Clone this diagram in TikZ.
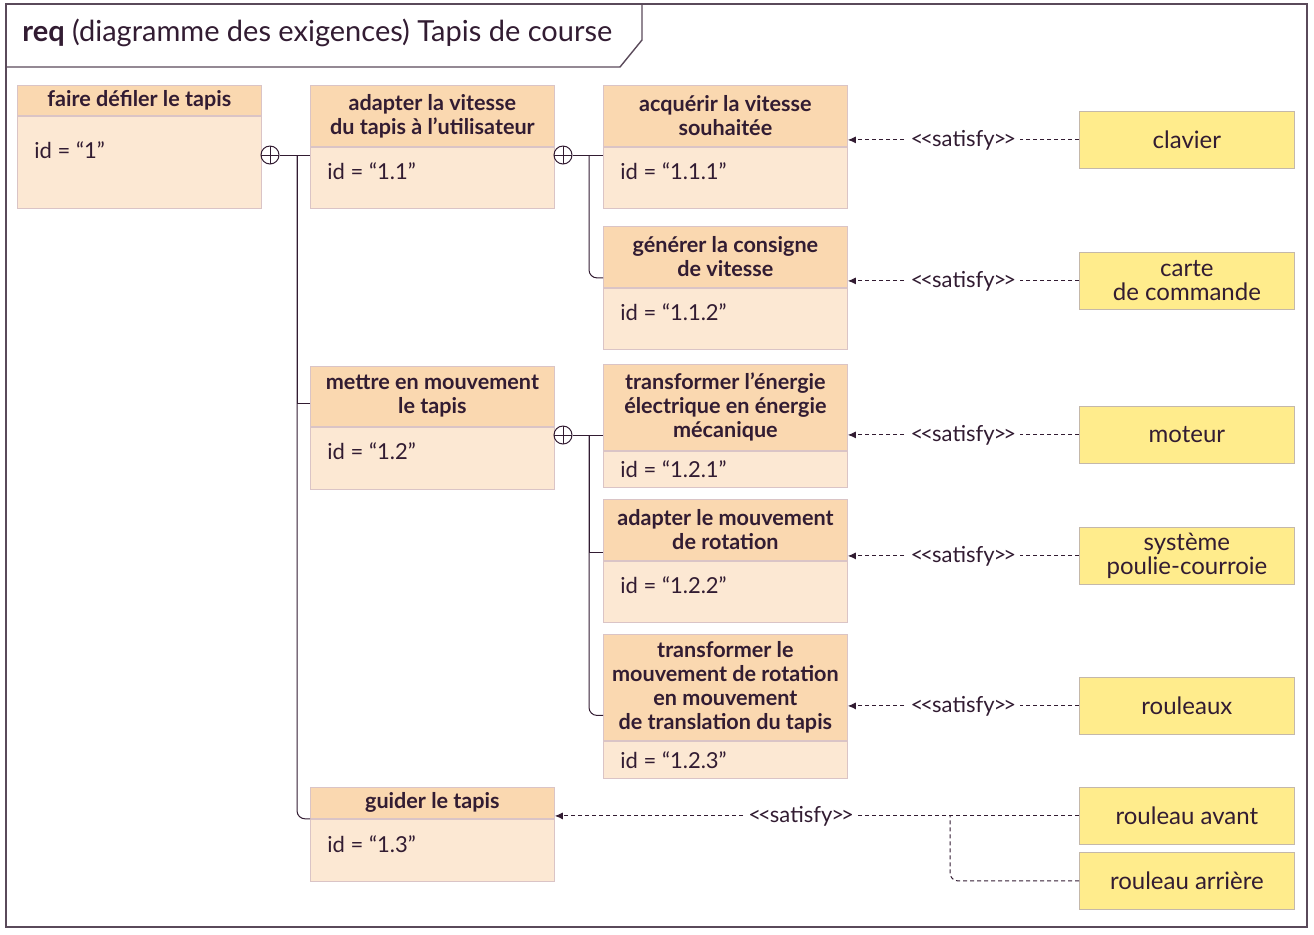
\documentclass[tikz,border=0pt]{standalone}
\usepackage{fontspec}
\setmainfont{Lato}
\usetikzlibrary{positioning,calc,arrows.meta}
\definecolor{inkcolor}{RGB}{50,28,50}
\definecolor{framecolor}{RGB}{90,74,90}
\definecolor{headcolor}{RGB}{250,216,176}
\definecolor{bodycolor}{RGB}{252,232,211}
\definecolor{edgecolor}{RGB}{218,196,198}
\definecolor{partcolor}{RGB}{255,236,140}
\definecolor{partedge}{RGB}{196,184,170}

\tikzset{
  reqhead/.style={draw=edgecolor, fill=headcolor, minimum width=122pt, inner sep=0pt,
    align=center, font=\fontsize{10.8}{12}\selectfont\bfseries, text=inkcolor, anchor=north west},
  reqbody/.style={draw=edgecolor, fill=bodycolor, minimum width=122pt, inner sep=0pt, anchor=north},
  idtext/.style={font=\fontsize{11}{13}\selectfont, text=inkcolor, anchor=west, inner sep=0pt},
  partbox/.style={draw=partedge, fill=partcolor, minimum width=107.5pt, minimum height=28.5pt,
    inner sep=0pt, align=center, font=\fontsize{12}{12}\selectfont, text=inkcolor, anchor=north west},
  contain/.style={draw=inkcolor, line width=0.5pt},
  oplus/.style={circle, draw=inkcolor, line width=0.5pt, minimum size=9pt, inner sep=0pt,
    path picture={\draw[inkcolor, line width=0.5pt]
      (path picture bounding box.north) -- (path picture bounding box.south)
      (path picture bounding box.west) -- (path picture bounding box.east);}},
  satline/.style={draw=inkcolor, line width=0.5pt, dash pattern=on 2pt off 1.5pt},
  satarrow/.style={satline, -{Latex[length=4pt,width=3.5pt]}},
  satlabel/.style={fill=white, font=\fontsize{11}{12}\selectfont, text=inkcolor, inner sep=2pt}
}

\newcommand{\satisfytext}{<\kern-1.5pt<\kern-0.5pt satisfy\kern-0.5pt>\kern-1.5pt>}

% requirement box: name, x, y, header height, body height, id offset, title, id
\newcommand{\reqbox}[8]{
  \node[reqhead, minimum height=#4*0.5pt] (#1h) at (#2,#3) {#7};
  \node[reqbody, minimum height=#5*0.5pt] (#1b) at (#1h.south) {};
  \node[idtext] (#1id) at ($(#1b.north west)+(17,#6)$) {id = “#8”};
}

\begin{document}
\begin{tikzpicture}[x=0.5pt, y=-0.5pt]
  \useasboundingbox (0,0) rectangle (1314,934);
  % frame and title
  \draw[framecolor, line width=0.7pt] (6,4) rectangle (1307,927);
  \draw[framecolor, line width=0.7pt] (6,67) -- (620,67) -- (642,40) -- (642,4);
  \node[anchor=west, font=\fontsize{14.5}{16}\selectfont, text=inkcolor, inner sep=0pt] (title) at (22,33)
    {\textbf{req} (diagramme des exigences) Tapis de course};

  % requirements
  \reqbox{r1}{17}{85}{30}{92}{34}{faire défiler le tapis}{1}
  \reqbox{r11}{310}{85}{61}{61}{24}{adapter la vitesse\\du tapis à l’utilisateur}{1.1}
  \reqbox{r111}{603}{85}{61}{61}{24}{acquérir la vitesse\\souhaitée}{1.1.1}
  \reqbox{r112}{603}{226}{61}{61}{24}{générer la consigne\\de vitesse}{1.1.2}
  \reqbox{r12}{310}{366}{60}{62}{24}{mettre en mouvement\\le tapis}{1.2}
  \reqbox{r121}{603}{364}{86}{36}{18}{transformer l’énergie\\électrique en énergie\\mécanique}{1.2.1}
  \reqbox{r122}{603}{499}{61}{61}{24}{adapter le mouvement\\de rotation}{1.2.2}
  \reqbox{r123}{603}{634}{106}{37}{19}{transformer le\\mouvement de rotation\\en mouvement\\de translation du tapis}{1.2.3}
  \reqbox{r13}{310}{787}{31}{62}{25}{guider le tapis}{1.3}

  % parts
  \node[partbox] (kbd) at (1079,111) {clavier};
  \node[partbox] (card) at (1079,252) {carte\\de commande};
  \node[partbox] (motor) at (1079,406) {moteur};
  \node[partbox] (belt) at (1079,527) {système\\poulie-courroie};
  \node[partbox] (rollers) at (1079,677) {rouleaux};
  \node[partbox] (rfront) at (1079,787) {rouleau avant};
  \node[partbox] (rback) at (1079,852) {rouleau arrière};

  % containment
  \node[oplus] (p1) at (270,155) {};
  \node[oplus] (p2) at (563,155) {};
  \node[oplus] (p3) at (563,435) {};
  \coordinate (t1) at (297,155);
  \coordinate (t2) at (589,155);
  \coordinate (t3) at (589,435);
  \draw[contain] (p1.east) -- (p1 -| r11b.west);
  \draw[contain, rounded corners=4pt] (t1) |- (r13b.north west);
  \draw[contain] ([yshift=-3.5pt]r12h.west) -| (t1);
  \draw[contain] (p2.east) -- (p2 -| r111b.west);
  \draw[contain, rounded corners=4pt] (t2) |- ([yshift=-10.5pt]r112h.west);
  \draw[contain] (p3.east) -- (p3 -| r121h.west);
  \draw[contain] ([yshift=-11.5pt]r122h.west) -| (t3);
  \draw[contain, rounded corners=4pt] (t3) |- ([yshift=-14pt]r123h.west);

  % satisfy
  \draw[satarrow] (kbd.west) -- node[satlabel] {\satisfytext} (kbd.west -| r111h.east);
  \draw[satarrow] (card.west) -- node[satlabel] {\satisfytext} (card.west -| r112h.east);
  \draw[satarrow] (motor.west) -- node[satlabel] {\satisfytext} (motor.west -| r121h.east);
  \draw[satarrow] (belt.west) -- node[satlabel] {\satisfytext} (belt.west -| r122h.east);
  \draw[satarrow] (rollers.west) -- node[satlabel] {\satisfytext} (rollers.west -| r123h.east);
  \draw[satarrow] (rfront.west) -- node[satlabel, pos=0.53] {\satisfytext} (rfront.west -| r13h.east);
  \coordinate (join) at (950,816);
  \draw[satline, rounded corners=4pt] (rback.west) -| (join);
\end{tikzpicture}
\end{document}
